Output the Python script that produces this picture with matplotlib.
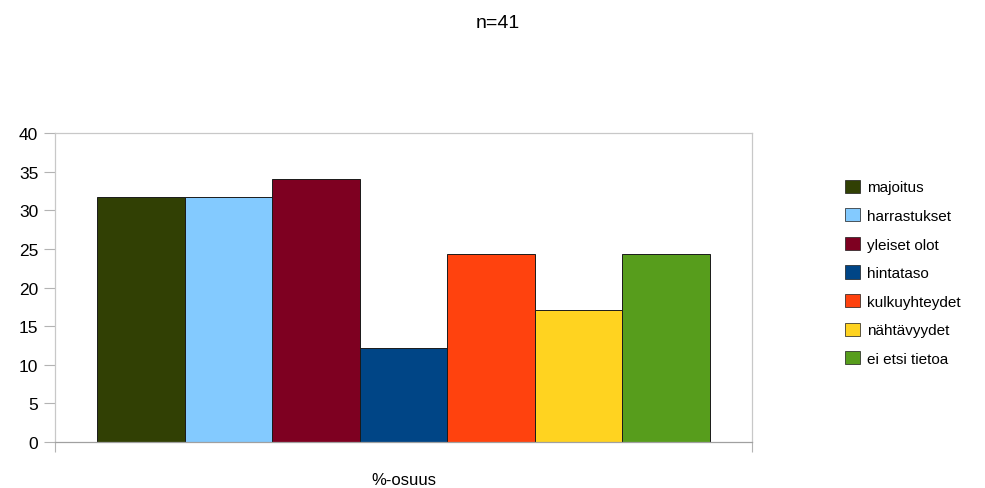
import matplotlib
matplotlib.use("Agg")
import matplotlib.pyplot as plt
from matplotlib.patches import Patch

plt.rcParams['font.family'] = ['Liberation Sans', 'DejaVu Sans']

categories = ["majoitus", "harrastukset", "yleiset olot", "hintataso",
              "kulkuyhteydet", "nähtävyydet", "ei etsi tietoa"]
values = [31.7, 31.7, 34.1, 12.2, 24.4, 17.1, 24.4]
colors = ["#314004", "#83caff", "#7e0021", "#004586",
          "#ff420e", "#ffd320", "#579d1c"]
y_ticks = [0, 5, 10, 15, 20, 25, 30, 35, 40]

fig = plt.figure(figsize=(9.85, 4.89), dpi=100)
ax = fig.add_axes([0.0558, 0.094, 0.7077, 0.632])

x = list(range(len(values)))
ax.bar(x, values, width=1.0, color=colors, edgecolor="#1a1a1a", linewidth=0.7)

pad = 0.486
ax.set_xlim(-0.5 - pad, len(values) - 0.5 + pad)
ax.set_ylim(0, 40)
ax.set_yticks(y_ticks)
ax.tick_params(axis="y", labelsize=12.5, length=8, color="#b3b3b3", pad=4)
ax.set_xticks([-0.5 - pad, len(values) - 0.5 + pad])
ax.set_xticklabels([])
ax.tick_params(axis="x", length=7, color="#b3b3b3")
for s in ax.spines.values():
    s.set_color("#c8c8c8")
    s.set_linewidth(0.9)
ax.spines["bottom"].set_color("#a0a0a0")
ax.set_xlabel("%-osuus", fontsize=12, labelpad=11)

fig.text(0.505, 0.952, "n=41", ha="center", va="center", fontsize=14)

handles = [Patch(facecolor=c, edgecolor="#1a1a1a", linewidth=0.5) for c in colors]
fig.legend(handles, categories, loc="center left", bbox_to_anchor=(0.852, 0.440),
           frameon=False, fontsize=11, handlelength=0.95, handleheight=0.95,
           handletextpad=0.45, labelspacing=0.9, borderaxespad=0)

fig.savefig("out.png", dpi=100)
